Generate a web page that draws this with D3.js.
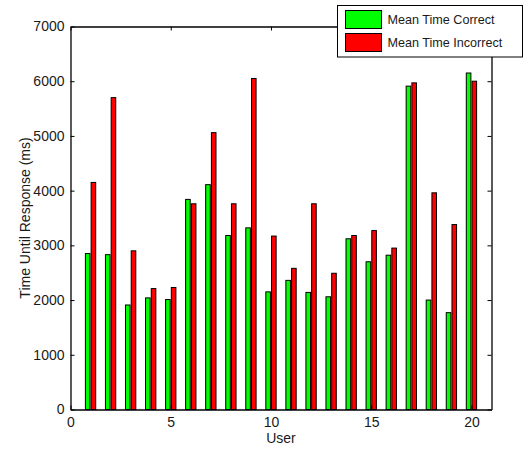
<!DOCTYPE html>
<html>
<head>
<meta charset="utf-8">
<script src="https://cdn.jsdelivr.net/npm/d3@7"></script>
<style>
  html, body { margin: 0; padding: 0; background: #fff; }
  svg { display: block; }
  text { font-family: "Liberation Sans", Arial, Helvetica, sans-serif; fill: #1a1a1a; }
</style>
</head>
<body>
<svg id="chart" width="524" height="450"></svg>
<script>
// Per-user mean response times (ms)
const users = [1, 2, 3, 4, 5, 6, 7, 8, 9, 10, 11, 12, 13, 14, 15, 16, 17, 18, 19, 20];
const meanCorrect = [2850, 2830, 1910, 2040, 2010, 3840, 4110, 3180, 3320, 2150,
                     2360, 2140, 2060, 3120, 2700, 2820, 5910, 2000, 1770, 6150];
const meanIncorrect = [4150, 5700, 2900, 2210, 2230, 3760, 5060, 3760, 6050, 3170,
                       2580, 3760, 2490, 3180, 3270, 2950, 5970, 3960, 3380, 6000];
const seriesNames = ["Mean Time Correct", "Mean Time Incorrect"];
const seriesColors = ["#00ff00", "#ff0000"];
const xTicks = [0, 5, 10, 15, 20];
const yTicks = [0, 1000, 2000, 3000, 4000, 5000, 6000, 7000];

const svg = d3.select("#chart");
const plotLeft = 70.5, plotRight = 491.5, plotTop = 26.5, plotBottom = 409.5;

const x = d3.scaleLinear().domain([0, 21]).range([plotLeft, plotRight]);
const y = d3.scaleLinear().domain([0, 7000]).range([plotBottom, plotTop]);

// Grouped bars: two series side by side around each user position
const groupWidth = 2 / 3.5;
const offset = d3.scaleBand().domain(seriesNames)
  .range([-groupWidth / 2, groupWidth / 2]).paddingInner(0.2).paddingOuter(0.1);

const rows = users.map((u, i) => ({ user: u, values: [meanCorrect[i], meanIncorrect[i]] }));

svg.append("rect").attr("x", plotLeft).attr("y", plotTop)
  .attr("width", plotRight - plotLeft).attr("height", plotBottom - plotTop).attr("fill", "#fff");

const groups = svg.append("g").selectAll("g").data(rows).join("g");
groups.selectAll("rect")
  .data(d => d.values.map((v, k) => ({ user: d.user, v, k })))
  .join("rect")
  .attr("x", d => x(d.user + offset(seriesNames[d.k])))
  .attr("width", d => x(offset.bandwidth()) - x(0))
  .attr("y", d => y(d.v))
  .attr("height", d => y(0) - y(d.v))
  .attr("fill", d => seriesColors[d.k])
  .attr("stroke", "#000")
  .attr("stroke-width", 1);

// Axes with inward ticks on all four sides
const fontSize = 14;
const fmt = d3.format("d");
const xAxis = svg.append("g").attr("transform", `translate(0,${plotBottom})`)
  .call(d3.axisBottom(x).tickValues(xTicks).tickFormat(fmt).tickSizeInner(-4).tickSizeOuter(0).tickPadding(8));
const xTop = svg.append("g").attr("transform", `translate(0,${plotTop})`)
  .call(d3.axisTop(x).tickValues(xTicks).tickSizeInner(-4).tickSizeOuter(0).tickFormat(""));
const yAxis = svg.append("g").attr("transform", `translate(${plotLeft},0)`)
  .call(d3.axisLeft(y).tickValues(yTicks).tickFormat(fmt).tickSizeInner(-4).tickSizeOuter(0).tickPadding(6));
const yRight = svg.append("g").attr("transform", `translate(${plotRight},0)`)
  .call(d3.axisRight(y).tickValues(yTicks).tickSizeInner(-4).tickSizeOuter(0).tickFormat(""));

[xAxis, xTop, yAxis, yRight].forEach(g => {
  g.select(".domain").attr("stroke", "#000").attr("stroke-width", 1.3);
  g.selectAll(".tick line").attr("stroke", "#000");
  g.selectAll(".tick text").attr("font-size", fontSize).attr("fill", "#1a1a1a")
    .attr("font-family", '"Liberation Sans", Arial, sans-serif');
});

svg.append("text").attr("x", (plotLeft + plotRight) / 2).attr("y", 443)
  .attr("text-anchor", "middle").attr("font-size", fontSize).text("User");
svg.append("text").attr("transform", `translate(30,${(plotTop + plotBottom) / 2}) rotate(-90)`)
  .attr("text-anchor", "middle").attr("font-size", fontSize).text("Time Until Response (ms)");

// Legend
const legend = svg.append("g");
legend.append("rect").attr("x", 337.5).attr("y", 5.5).attr("width", 185).attr("height", 51.5)
  .attr("fill", "#fff").attr("stroke", "#000").attr("stroke-width", 1);
seriesNames.forEach((name, k) => {
  const yy = 10 + k * 23;
  legend.append("rect").attr("x", 345.5).attr("y", yy + 0.5).attr("width", 36).attr("height", 18)
    .attr("fill", seriesColors[k]).attr("stroke", "#000").attr("stroke-width", 1);
  legend.append("text").attr("x", 387.5).attr("y", yy + 14)
    .attr("font-size", 12.6).text(name);
});
</script>
</body>
</html>
